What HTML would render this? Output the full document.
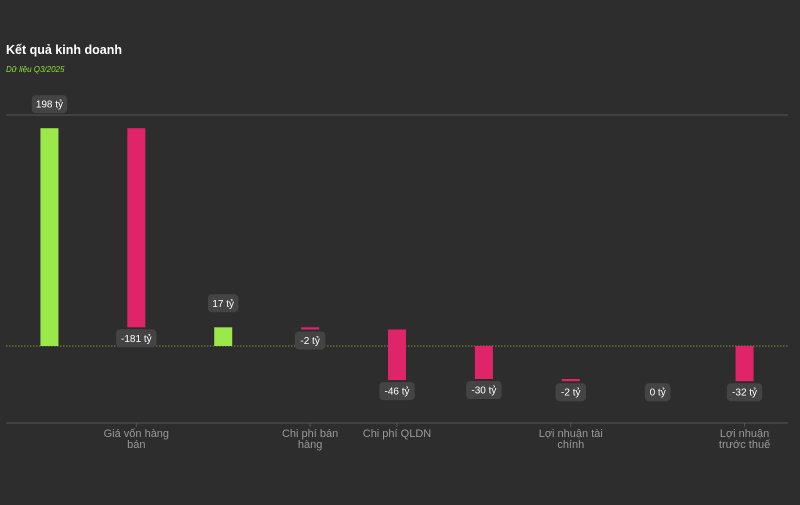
<!DOCTYPE html>
<html><head><meta charset="utf-8">
<style>
html,body{margin:0;padding:0;background:#2d2d2d;}
body{width:800px;height:500px;overflow:hidden;font-family:"Liberation Sans",sans-serif;}
</style></head>
<body>
<svg id="chart" width="800" height="500">
  <text x="6" y="54" fill="#ffffff" font-size="12.5" font-weight="bold">Kết quả kinh doanh</text>
  <text x="6" y="72" fill="#8ee03c" font-size="8" font-style="italic">Dữ liệu Q3/2025</text>
  <g id="plot"></g>
</svg>
<script>
const categories = ["Doanh thu","Giá vốn hàng|bán","Lợi nhuận gộp","Chi phí bán|hàng","Chi phí QLDN","Lợi nhuận thuần","Lợi nhuận tài|chính","Lợi nhuận khác","Lợi nhuận|trước thuế"];
const values = [198,-181,17,-2,-46,-30,-2,0,-32];
const bases = [0,198,0,17,15,0,-30,-32,0];
const showLabel = [false,true,false,true,true,false,true,false,true];
const yMin = -70, yMax = 210;

const X0 = 6, X1 = 788, Y0 = 115, Y1 = 423;
const band = (X1 - X0) / categories.length;
const xc = i => X0 + band * (i + 0.5);
const y = v => Y1 - (v - yMin) / (yMax - yMin) * (Y1 - Y0);
const NS = "http://www.w3.org/2000/svg";
const g = document.getElementById("plot");
function mk(tag, attrs){const e=document.createElementNS(NS,tag);for(const k in attrs)e.setAttribute(k,attrs[k]);g.appendChild(e);return e;}

let l = mk("line",{x1:X0,x2:X1,y1:Y0,y2:Y0,stroke:"#555","stroke-width":1});


l = mk("line",{x1:X0,x2:X1,y1:Y1,y2:Y1,stroke:"#555","stroke-width":1});


l = mk("line",{x1:X0,x2:X1,y1:y(0),y2:y(0),stroke:"#7d8f35","stroke-width":1,"stroke-dasharray":"1.5,1.5"});



categories.forEach((c,i)=>{
  const v = values[i], b = bases[i], e = b + v;
  const top = Math.min(y(b), y(e)), h = Math.abs(y(b) - y(e));
  const bw = 18;
  if (v !== 0) {
    const r = mk("rect",{x:xc(i)-bw/2,y:top,width:bw,height:Math.max(h,2),fill:v>=0?"#9be84a":"#e0246a"});
    
    
  }
  const txt = v + " tỷ";
  const ly = v > 0 ? y(e) - 24 : Math.max(y(e), y(b)) + 11;
  const w = txt.length * 4.9 + 6;
  const bx = mk("rect",{x:xc(i)-w/2,y:ly-9,width:w,height:18,rx:4,fill:"#444"});
  
  
  const t = mk("text",{x:xc(i),y:ly+3.5,fill:"#fff","font-size":10,"text-anchor":"middle"});
  t.textContent = txt;
  
  
  if (showLabel[i]) {
    const tk = mk("line",{x1:xc(i),x2:xc(i),y1:Y1,y2:Y1+4,stroke:"#555"});
    
    
    c.split("|").forEach((ln,k)=>{
      const lt = mk("text",{x:xc(i),y:437+k*11,fill:"#999","font-size":11,"text-anchor":"middle"});
      lt.textContent = ln;
      
      
    });
  }
});
</script>
</body></html>
